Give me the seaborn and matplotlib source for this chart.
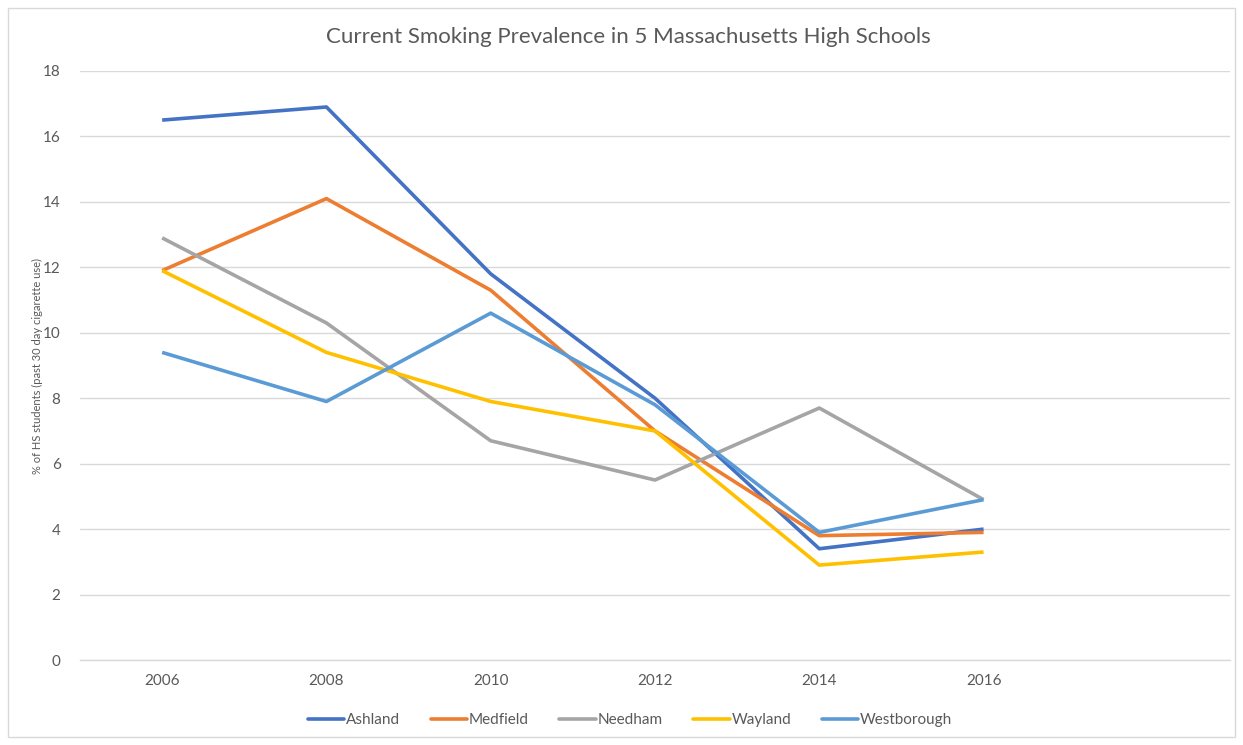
import numpy as np
import pandas as pd
import matplotlib
matplotlib.use("Agg")
import matplotlib.pyplot as plt
import seaborn as sns
from matplotlib.patches import Rectangle
from matplotlib.lines import Line2D

years = ["2006", "2008", "2010", "2012", "2014", "2016"]
schools = ["Ashland", "Medfield", "Needham", "Wayland", "Westborough"]
ashland = [16.5, 16.9, 11.8, 8.0, 3.4, 4.0]
medfield = [11.9, 14.1, 11.3, 7.0, 3.8, 3.9]
needham = [12.9, 10.3, 6.7, 5.5, 7.7, 4.9]
wayland = [11.9, 9.4, 7.9, 7.0, 2.9, 3.3]
westborough = [9.4, 7.9, 10.6, 7.8, 3.9, 4.9]
colors = ["#4472C4", "#ED7D31", "#A5A5A5", "#FFC000", "#5B9BD5"]

series = [ashland, medfield, needham, wayland, westborough]
rows = []
for name, vals in zip(schools, series):
    for i, (yr, v) in enumerate(zip(years, vals)):
        rows.append({"pos": i, "year": yr, "school": name, "value": v})
df = pd.DataFrame(rows)

sns.set_theme(style="white")
plt.rcParams['font.family'] = ['Lato', 'DejaVu Sans']

fig = plt.figure(figsize=(12.43, 7.45), dpi=100)
ax = fig.add_axes([80/1243, 85/745, 1150/1243, 589/745])

sns.lineplot(data=df, x="pos", y="value", hue="school", hue_order=schools,
             palette=colors, linewidth=2.6, ax=ax, legend=False,
             solid_capstyle="butt")

ax.set_xlim(-0.5, 6.5)
ax.set_ylim(0, 18)
ax.set_yticks(np.arange(0, 19, 2))
ax.set_xticks(range(len(years)))
ax.set_xticklabels(years)
ax.grid(axis="y", color="#D9D9D9", linewidth=1)
ax.set_axisbelow(True)
for s in ["top", "right", "left"]:
    ax.spines[s].set_visible(False)
ax.spines["bottom"].set_color("#D9D9D9")
ax.spines["bottom"].set_linewidth(1)
ax.tick_params(axis="both", length=0, colors="#595959", labelsize=11)
ax.tick_params(axis="y", pad=14)
ax.tick_params(axis="x", pad=10)
ax.set_xlabel("")
ax.set_ylabel("% of HS students (past 30 day cigarette use)", fontsize=8,
              color="#595959", labelpad=0)

fig.text(628/1243, 1 - 37/745, "Current Smoking Prevalence in 5 Massachusetts High Schools",
         ha="center", va="center", fontsize=16, color="#595959")

handles = [Line2D([0], [0], color=c, linewidth=2.6) for c in colors]
fig.legend(handles, schools, loc="center", bbox_to_anchor=(630/1243, 1 - 720/745),
           ncol=5, frameon=False, fontsize=11, handlelength=2.4, handletextpad=0.1,
           columnspacing=2.0, labelcolor="#595959")

fig.patches.append(Rectangle((8/1243, 8/745), 1227/1243, 729/745, transform=fig.transFigure,
                             fill=False, edgecolor="#D9D9D9", linewidth=1))

fig.savefig("out.png", dpi=100, facecolor="white")
